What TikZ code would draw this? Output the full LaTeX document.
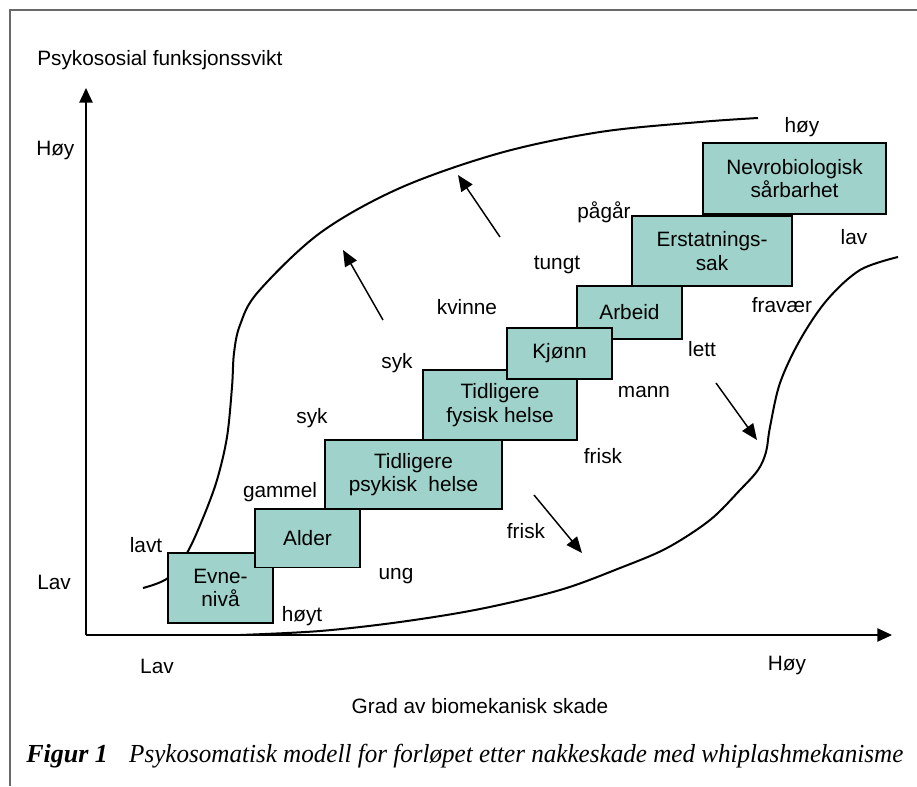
\documentclass[tikz,border=0pt]{standalone}
\usepackage{fontspec}
\setmainfont{Liberation Sans}
\newfontfamily\capfont{Liberation Serif}
\usetikzlibrary{arrows.meta}
\definecolor{boxfill}{RGB}{158,210,202}
\definecolor{framegray}{RGB}{105,105,105}
\begin{document}
\begin{tikzpicture}[x=0.75pt,y=-0.75pt,
  lbl/.style={font=\fontsize{15.6}{17.6}\selectfont, inner sep=0pt},
  box/.style={draw=black, line width=1.4pt, fill=boxfill, inner sep=0pt, align=center, font=\fontsize{15.6}{17.6}\selectfont},
  curve/.style={line width=1.5pt},
  arr/.style={line width=1.1pt, -{Triangle[length=12pt,width=10pt]}},
  axisline/.style={line width=1.1pt, -{Triangle[length=11pt,width=10pt]}}]
\useasboundingbox (0,0) rectangle (917,786);
\fill[white] (0,0) rectangle (917,786);
% frame
\draw[framegray, line width=1.5pt] (10,786) |- (917,10);
% axes
\coordinate (O) at (86,635);
\coordinate (ytip) at (86,88);
\coordinate (xtip) at (892,635);
\draw[axisline] (O) -- (ytip);
\draw[axisline] (O) -- (xtip);
% curves
\draw[curve] plot[smooth, tension=0.55] coordinates {(143,588) (168,578) (187,553) (203,518) (217,480) (227,437) (232,387) (234,353) (240,325) (258,292) (320,233) (400,188) (500,153) (600,132) (700,122) (758,118)};
\draw[curve] plot[smooth, tension=0.55] coordinates {(240,635) (320,631) (400,622) (480,609) (560,590) (620,568) (667,548) (710,520) (740,490) (758,470) (766,452) (770,427) (780,383) (800,340) (827,300) (860,270) (898,257)};
% arrows
\coordinate (a1s) at (383,320); \coordinate (a1e) at (343,250);
\coordinate (a2s) at (500,237); \coordinate (a2e) at (458,175);
\coordinate (a3s) at (716,383); \coordinate (a3e) at (757,440);
\coordinate (a4s) at (534,495); \coordinate (a4e) at (582,553);
\draw[arr] (a1s) -- (a1e);
\draw[arr] (a2s) -- (a2e);
\draw[arr] (a3s) -- (a3e);
\draw[arr] (a4s) -- (a4e);
% boxes
\node[box, minimum width=78.75pt, minimum height=52.5pt] (evne) at (220.5,588) {Evne-\\nivå};
\node[box, minimum width=78.75pt, minimum height=43.9pt] (alder) at (307.5,538.25) {Alder};
\node[box, minimum width=132.75pt, minimum height=51.75pt] (psyk) at (413.5,474.5) {Tidligere\\psykisk\ \ helse};
\node[box, minimum width=115.5pt, minimum height=52.5pt] (fys) at (500,405) {Tidligere\\fysisk helse};
\node[box, minimum width=78.75pt, minimum height=39.75pt] (arbeid) at (629.5,312.5) {Arbeid};
\node[box, minimum width=78.75pt, minimum height=38.25pt] (kjonn) at (559.5,353.5) {Kjønn};
\node[box, minimum width=120pt, minimum height=52.5pt] (erst) at (712,251) {Erstatnings-\\sak};
\node[box, minimum width=137.25pt, minimum height=53.25pt] (nevro) at (794.5,178.5) {Nevrobiologisk\\sårbarhet};
% labels
\node[lbl, anchor=west] (ytitle) at (37,60) {Psykososial funksjonssvikt};
\node[lbl, anchor=west] (yhoy) at (36,150) {Høy};
\node[lbl, anchor=west] (ylav) at (37,582) {Lav};
\node[lbl] (xlav) at (157,666) {Lav};
\node[lbl] (xhoy) at (787,665) {Høy};
\node[lbl] (xtitle) at (480,706) {Grad av biomekanisk skade};
\node[lbl] (lavt) at (146,545) {lavt};
\node[lbl] (gammel) at (280,492) {gammel};
\node[lbl] (syk1) at (312,418) {syk};
\node[lbl] (syk2) at (397,363) {syk};
\node[lbl] (kvinne) at (467,307) {kvinne};
\node[lbl] (tungt) at (557,265) {tungt};
\node[lbl] (pagar) at (604,212) {pågår};
\node[lbl] (hoy) at (802,127) {høy};
\node[lbl] (lav) at (854,237) {lav};
\node[lbl] (fravaer) at (782,305) {fravær};
\node[lbl] (lett) at (702,349) {lett};
\node[lbl] (mann) at (644,392) {mann};
\node[lbl] (frisk1) at (603,456) {frisk};
\node[lbl] (frisk2) at (526,531) {frisk};
\node[lbl] (ung) at (396,576) {ung};
\node[lbl] (hoyt) at (302,616) {høyt};
% caption
\node[anchor=base west, inner sep=0pt] (cap) at (26,762) {\capfont\fontsize{19.5}{22}\selectfont\bfseries\itshape Figur 1\hspace{16pt}\mdseries\scalebox{0.965}[1]{Psykosomatisk modell for forløpet etter nakkeskade med whiplashmekanisme}};
\end{tikzpicture}
\end{document}
